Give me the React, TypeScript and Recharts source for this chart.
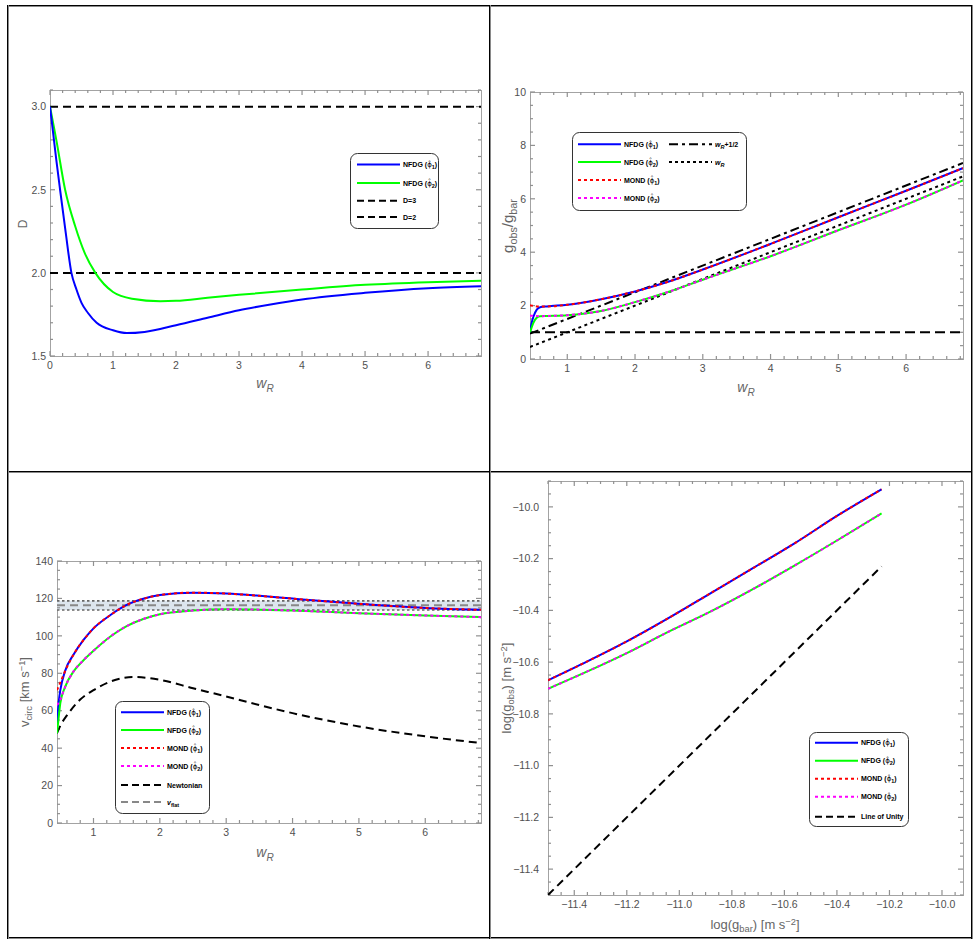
import React from "react";
import { LineChart, Line, XAxis, YAxis, ReferenceLine, ReferenceArea } from "recharts";

const FONT = "'Liberation Sans', Arial, Helvetica, sans-serif";
const FRAME = "#a3a3a3";
const TICK_MARK = "#909090";
const TICK_TEXT = "#505050";
const LABEL = "#666";
const GAP = 8;

const BLUE = "#0000ff";
const GREEN = "#00ff00";
const RED = "#ff0000";
const MAGENTA = "#ff00ff";
const BLACK = "#000000";

// ---------- panel 1: D vs w_R ----------
const dWR1 = [0, 0.05, 0.1, 0.16, 0.25, 0.34, 0.42, 0.5, 0.6, 0.74, 1.0, 1.22, 1.5, 2, 2.5, 3, 3.5, 4, 5, 6, 6.84];
const dNFDG1 = [3.0, 2.84, 2.68, 2.5, 2.24, 2.0, 1.9, 1.82, 1.76, 1.7, 1.655, 1.638, 1.645, 1.685, 1.73, 1.775, 1.81, 1.84, 1.88, 1.908, 1.92];
const dWR2 = [0, 0.05, 0.1, 0.24, 0.4, 0.55, 0.72, 1.0, 1.3, 1.75, 2, 2.5, 3, 4, 5, 6, 6.84];
const dNFDG2 = [3.0, 2.9, 2.8, 2.5, 2.28, 2.12, 2.0, 1.885, 1.845, 1.83, 1.832, 1.85, 1.868, 1.9, 1.928, 1.944, 1.952];
const dRefLines = [3, 2];
const dXMajor = [0, 1, 2, 3, 4, 5, 6];
const dYMajor = [1.5, 2.0, 2.5, 3.0];

// ---------- panel 2: g_obs/g_bar vs w_R ----------
const gWR = [0.45, 0.47, 0.5, 0.55, 0.6, 0.7, 1, 1.5, 2, 2.5, 3, 4, 5, 6, 6.84];
const gNFDG1 = [1.0, 1.3, 1.58, 1.85, 1.94, 1.97, 2.03, 2.24, 2.53, 2.9, 3.35, 4.31, 5.31, 6.3, 7.15];
const gMOND1 = [2.02, 2.0, 1.99, 1.97, 1.97, 1.97, 2.03, 2.24, 2.53, 2.9, 3.35, 4.31, 5.31, 6.3, 7.15];
const gNFDG2 = [1.0, 1.15, 1.35, 1.55, 1.6, 1.61, 1.64, 1.8, 2.13, 2.52, 2.97, 3.85, 4.82, 5.78, 6.69];
const gMOND2 = [1.62, 1.62, 1.62, 1.61, 1.6, 1.61, 1.64, 1.8, 2.13, 2.52, 2.97, 3.85, 4.82, 5.78, 6.69];
const gLineWR = [0.45, 6.84];
const gPlusHalf = [0.95, 7.34];
const gEqualWR = [0.45, 6.84];
const gUnity = [1, 1];
const gXMajor = [1, 2, 3, 4, 5, 6];
const gYMajor = [0, 2, 4, 6, 8, 10];

// ---------- panel 3: v_circ vs w_R ----------
const vWR = [0.45, 0.48, 0.5, 0.57, 0.7, 0.85, 1, 1.25, 1.5, 1.75, 2, 2.5, 3, 3.5, 4, 5, 6, 6.84];
const vNFDG1 = [53, 66, 71, 81, 90, 97.8, 104, 111, 116.5, 119.8, 121.8, 123.1, 122.6, 121.4, 119.9, 117.1, 114.9, 113.9];
const vMOND1 = [71, 73.5, 75, 81, 90, 97.8, 104, 111, 116.5, 119.8, 121.8, 123.1, 122.6, 121.4, 119.9, 117.1, 114.9, 113.9];
const vNFDG2 = [48, 58, 64, 72.5, 81, 87, 92, 99.5, 105.2, 109, 111.5, 113.5, 114.2, 114, 113.5, 112.1, 110.9, 110];
const vMOND2 = [63, 64.5, 66, 72.5, 81, 87, 92, 99.5, 105.2, 109, 111.5, 113.5, 114.2, 114, 113.5, 112.1, 110.9, 110];
const vNewtWR = [0.45, 0.5, 0.6, 0.8, 1, 1.25, 1.6, 2, 2.5, 3, 3.5, 4, 5, 6, 6.84];
const vNewton = [48, 52, 57.5, 66, 71, 75.5, 78, 76.5, 72, 67.6, 63, 58.7, 51.6, 46.3, 42.7];
const vFlat = 116.4;
const vFlatLow = 113.8;
const vFlatHigh = 118.7;
const vXMajor = [1, 2, 3, 4, 5, 6];
const vYMajor = [0, 20, 40, 60, 80, 100, 120, 140];

// ---------- panel 4: log g_obs vs log g_bar ----------
const rBar = [-11.5, -11.35, -11.2, -11.05, -10.88, -10.72, -10.56, -10.4, -10.23];
const rNFDG1 = [-10.67, -10.597, -10.52, -10.435, -10.333, -10.237, -10.14, -10.035, -9.932];
const rNFDG2 = [-10.703, -10.636, -10.565, -10.487, -10.404, -10.318, -10.226, -10.13, -10.025];
const rUnityBar = [-11.5, -10.23];
const rUnityObs = [-11.5, -10.23];
const rMajor = [-11.4, -11.2, -11.0, -10.8, -10.6, -10.4, -10.2, -10.0];

function zip(xs: number[], ys: number[]) {
  return xs.map((x, i) => ({ x, y: ys[i] }));
}

function ticksIn(domain: number[], step: number) {
  const out: number[] = [];
  const start = Math.ceil(domain[0] / step - 1e-9);
  for (let i = start; i * step <= domain[1] + 1e-9; i++) out.push(Math.round(i * step * 1e6) / 1e6);
  return out;
}

const isIn = (list: number[], v: number) => list.some((m) => Math.abs(m - v) < 1e-6);
const minus = (v: number) => v.toFixed(1).replace("-", "\u2212");

function labelTick(side: "bottom" | "left", fmt: (v: number) => string, labelGap = 4) {
  return (p: any) => {
    const txt = { fontFamily: FONT, fontSize: 10.5, fill: TICK_TEXT };
    if (side === "bottom") {
      return <text x={p.x} y={p.y - GAP + 5} dy="0.75em" textAnchor="middle" {...txt}>{fmt(p.payload.value)}</text>;
    }
    return <text x={p.x + GAP - labelGap} y={p.y} dy="0.36em" textAnchor="end" {...txt}>{fmt(p.payload.value)}</text>;
  };
}

function labelAxes(xDomain: number[], xMajor: number[], fmtX: (v: number) => string,
  yDomain: number[], yMajor: number[], fmtY: (v: number) => string, labelGap = 4) {
  const common = { type: "number" as const, allowDataOverflow: true, interval: 0 as const, tickLine: false, tickSize: 0, tickMargin: GAP, axisLine: false };
  return [
    <XAxis key="xb" dataKey="x" domain={xDomain} ticks={xMajor} height={30} tick={labelTick("bottom", fmtX)} {...common} />,
    <YAxis key="yl" domain={yDomain} ticks={yMajor} width={45} tick={labelTick("left", fmtY, labelGap)} {...common} />,
  ];
}

// inward frame ticks on all four sides, placed through the chart's scales
function frameTicks(xDomain: number[], xStep: number, xMajor: number[],
  yDomain: number[], yStep: number, yMajor: number[], plotW: number, plotH: number) {
  const [x0, x1] = xDomain;
  const [y0, y1] = yDomain;
  const ux = (x1 - x0) / plotW;
  const uy = (y1 - y0) / plotH;
  const marks: React.ReactNode[] = [];
  const st = { stroke: TICK_MARK, strokeWidth: 1.2 };
  ticksIn(xDomain, xStep).forEach((v) => {
    const len = (isIn(xMajor, v) ? 5 : 3) * uy;
    marks.push(<ReferenceLine key={`xb${v}`} segment={[{ x: v, y: y0 }, { x: v, y: y0 + len }]} {...st} />);
    marks.push(<ReferenceLine key={`xt${v}`} segment={[{ x: v, y: y1 }, { x: v, y: y1 - len }]} {...st} />);
  });
  ticksIn(yDomain, yStep).forEach((v) => {
    const len = (isIn(yMajor, v) ? 5 : 3) * ux;
    marks.push(<ReferenceLine key={`yl${v}`} segment={[{ x: x0, y: v }, { x: x0 + len, y: v }]} {...st} />);
    marks.push(<ReferenceLine key={`yr${v}`} segment={[{ x: x1, y: v }, { x: x1 - len, y: v }]} {...st} />);
  });
  return marks;
}

function PlotFrame({ l, t, r, b }: { l: number; t: number; r: number; b: number }) {
  return (
    <div style={{ position: "absolute", left: l, top: t, width: r - l - 1, height: b - t - 1,
      border: `1px solid ${FRAME}`, pointerEvents: "none" }} />
  );
}

function Phi({ name, i }: { name: string; i: number }) {
  return (
    <>
      {name} (<tspan fontFamily="'DejaVu Sans'" fontWeight="normal">{"\u03D5\u0302"}</tspan>
      <tspan dy={2} fontSize={5.5}>{i}</tspan>
      <tspan dy={-2}>)</tspan>
    </>
  );
}

type Row = { x: number; y: number; stroke: string; dash?: string; label: React.ReactNode };

function LegendBox({ left, top, width, height, rows }: { left: number; top: number; width: number; height: number; rows: Row[] }) {
  return (
    <svg style={{ position: "absolute", left, top }} width={width} height={height}>
      <rect x={0.5} y={0.5} width={width - 1} height={height - 1} rx={7} fill="#fff" stroke="#333" />
      {rows.map((r, k) => (
        <g key={k}>
          <line x1={r.x} x2={r.x + 43} y1={r.y} y2={r.y} stroke={r.stroke} strokeWidth={2} strokeDasharray={r.dash} />
          <text x={r.x + 46} y={r.y + 2.5} fontFamily={FONT} fontSize={7} fontWeight="bold" fill="#000">{r.label}</text>
        </g>
      ))}
    </svg>
  );
}

function AxisLabel({ x, y, rotate, size = 13, children }: { x: number; y: number; rotate?: boolean; size?: number; children: React.ReactNode }) {
  return (
    <div style={{ position: "absolute", left: x, top: y, transform: `translate(-50%, -50%)${rotate ? " rotate(-90deg)" : ""}`,
      fontFamily: FONT, fontSize: size, color: LABEL, whiteSpace: "nowrap", lineHeight: 1 }}>
      {children}
    </div>
  );
}

const Sub = ({ children, italic }: { children: React.ReactNode; italic?: boolean }) => (
  <span style={{ fontSize: "0.72em", position: "relative", top: "0.35em", fontStyle: italic ? "italic" : "normal" }}>{children}</span>
);
const Sup = ({ children }: { children: React.ReactNode }) => (
  <span style={{ fontSize: "0.72em", position: "relative", top: "-0.45em" }}>{children}</span>
);

function HLine({ x, y, w }: { x: number; y: number; w: number }) {
  return (
    <>
      <div style={{ position: "absolute", left: x, top: y, width: w, height: 1, background: "#000" }} />
      <div style={{ position: "absolute", left: x, top: y + 1, width: w, height: 1, background: "#8a8a8a" }} />
    </>
  );
}
function VLine({ x, y, h }: { x: number; y: number; h: number }) {
  return (
    <>
      <div style={{ position: "absolute", left: x, top: y, width: 1, height: h, background: "#000" }} />
      <div style={{ position: "absolute", left: x + 1, top: y, width: 1, height: h, background: "#8a8a8a" }} />
    </>
  );
}

const MARGIN = { top: 10, right: 10, bottom: 0, left: 0 };
const solid = { dot: false, isAnimationActive: false, strokeWidth: 2, type: "monotone" as const, dataKey: "y" };
const DOTTED = "3 3";
const DASHED = "8 5";

export default function App() {
  const wR = (
    <>
      <i>w</i>
      <Sub italic>R</Sub>
    </>
  );
  const wRsvg = (
    <>
      <tspan fontStyle="italic">w</tspan>
      <tspan dy={2} fontSize={5.5} fontStyle="italic">R</tspan>
    </>
  );
  return (
    <div style={{ position: "absolute", left: 0, top: 0, width: 980, height: 946, background: "#fff", overflow: "hidden" }}>
      <HLine x={7} y={5} w={966} />
      <HLine x={7} y={471} w={966} />
      <HLine x={7} y={937} w={966} />
      <VLine x={7} y={5} h={934} />
      <VLine x={489} y={5} h={934} />
      <VLine x={971} y={5} h={934} />

      <PlotFrame l={50} t={90} r={481} b={356} />
      <PlotFrame l={530} t={92} r={963} b={359} />
      <PlotFrame l={57} t={561} r={481} b={823} />
      <PlotFrame l={548} t={481} r={963} b={895} />

      {/* panel 1 */}
      <div style={{ position: "absolute", left: 5, top: 80 }}>
        <LineChart width={486} height={306} margin={MARGIN}>
          {labelAxes([0, 6.84], dXMajor, (v) => String(v), [1.5, 3.1], dYMajor, (v) => v.toFixed(1))}
          {frameTicks([0, 6.84], 0.2, dXMajor, [1.5, 3.1], 0.1, dYMajor, 431, 266)}
          {dRefLines.map((d) => (
            <ReferenceLine key={d} y={d} stroke={BLACK} strokeWidth={2} strokeDasharray={DASHED} />
          ))}
          <Line data={zip(dWR2, dNFDG2)} stroke={GREEN} {...solid} />
          <Line data={zip(dWR1, dNFDG1)} stroke={BLUE} {...solid} />
        </LineChart>
      </div>
      <AxisLabel x={23} y={224} rotate size={12}>D</AxisLabel>
      <AxisLabel x={265} y={383} size={14}>{wR}</AxisLabel>
      <LegendBox left={350} top={153} width={89} height={76} rows={[
        { x: 7, y: 11.5, stroke: BLUE, label: <Phi name="NFDG" i={1} /> },
        { x: 7, y: 30, stroke: GREEN, label: <Phi name="NFDG" i={2} /> },
        { x: 7, y: 47.7, stroke: BLACK, dash: "7 4", label: "D=3" },
        { x: 7, y: 64, stroke: BLACK, dash: "7 4", label: "D=2" },
      ]} />

      {/* panel 2 */}
      <div style={{ position: "absolute", left: 485, top: 82 }}>
        <LineChart width={488} height={307} margin={MARGIN}>
          {labelAxes([0.45, 6.84], gXMajor, (v) => String(v), [0, 10], gYMajor, (v) => String(v))}
          {frameTicks([0.45, 6.84], 0.2, gXMajor, [0, 10], 0.5, gYMajor, 433, 267)}
          <Line data={zip(gLineWR, gUnity)} stroke={BLACK} {...solid} type="linear" strokeDasharray="10 5" />
          <Line data={zip(gLineWR, gPlusHalf)} stroke={BLACK} {...solid} type="linear" strokeDasharray="9 4 3 4" />
          <Line data={zip(gLineWR, gEqualWR)} stroke={BLACK} {...solid} type="linear" strokeDasharray="3 3.5" />
          <Line data={zip(gWR, gNFDG1)} stroke={BLUE} {...solid} />
          <Line data={zip(gWR, gNFDG2)} stroke={GREEN} {...solid} />
          <Line data={zip(gWR, gMOND1)} stroke={RED} {...solid} strokeDasharray={DOTTED} />
          <Line data={zip(gWR, gMOND2)} stroke={MAGENTA} {...solid} strokeDasharray={DOTTED} />
        </LineChart>
      </div>
      <AxisLabel x={507} y={226} rotate size={15}>
        g<Sub>obs</Sub>/g<Sub>bar</Sub>
      </AxisLabel>
      <AxisLabel x={746} y={387} size={14}>{wR}</AxisLabel>
      <LegendBox left={572} top={132} width={175} height={79} rows={[
        { x: 6, y: 12.3, stroke: BLUE, label: <Phi name="NFDG" i={1} /> },
        { x: 6, y: 30, stroke: GREEN, label: <Phi name="NFDG" i={2} /> },
        { x: 6, y: 48, stroke: RED, dash: DOTTED, label: <Phi name="MOND" i={1} /> },
        { x: 6, y: 66, stroke: MAGENTA, dash: DOTTED, label: <Phi name="MOND" i={2} /> },
        { x: 97, y: 12.3, stroke: BLACK, dash: "9 4 3 4", label: <>{wRsvg}<tspan dy={-2}>+1/2</tspan></> },
        { x: 97, y: 30, stroke: BLACK, dash: "3 3", label: wRsvg },
      ]} />

      {/* panel 3 */}
      <div style={{ position: "absolute", left: 12, top: 551 }}>
        <LineChart width={479} height={302} margin={MARGIN}>
          {labelAxes([0.45, 6.84], vXMajor, (v) => String(v), [0, 140], vYMajor, (v) => String(v))}
          <ReferenceArea y1={vFlatLow} y2={vFlatHigh} fill="#dce5ee" fillOpacity={1} stroke="none" />
          {frameTicks([0.45, 6.84], 0.2, vXMajor, [0, 140], 5, vYMajor, 424, 262)}
          <ReferenceLine y={vFlatHigh} stroke="#666" strokeWidth={1.6} strokeDasharray="2.5 2.5" />
          <ReferenceLine y={vFlatLow} stroke="#666" strokeWidth={1.6} strokeDasharray="2.5 2.5" />
          <ReferenceLine y={vFlat} stroke="#888" strokeWidth={2} strokeDasharray={DASHED} />
          <Line data={zip(vNewtWR, vNewton)} stroke={BLACK} {...solid} strokeDasharray={DASHED} />
          <Line data={zip(vWR, vNFDG1)} stroke={BLUE} {...solid} />
          <Line data={zip(vWR, vNFDG2)} stroke={GREEN} {...solid} />
          <Line data={zip(vWR, vMOND1)} stroke={RED} {...solid} strokeDasharray={DOTTED} />
          <Line data={zip(vWR, vMOND2)} stroke={MAGENTA} {...solid} strokeDasharray={DOTTED} />
        </LineChart>
      </div>
      <AxisLabel x={25} y={692} rotate size={13}>
        v<Sub>circ</Sub> [km s<Sup>{"\u22121"}</Sup>]
      </AxisLabel>
      <AxisLabel x={265} y={852} size={14}>{wR}</AxisLabel>
      <LegendBox left={115} top={701} width={95} height={113} rows={[
        { x: 6, y: 11.3, stroke: BLUE, label: <Phi name="NFDG" i={1} /> },
        { x: 6, y: 29, stroke: GREEN, label: <Phi name="NFDG" i={2} /> },
        { x: 6, y: 47, stroke: RED, dash: DOTTED, label: <Phi name="MOND" i={1} /> },
        { x: 6, y: 65, stroke: MAGENTA, dash: DOTTED, label: <Phi name="MOND" i={2} /> },
        { x: 6, y: 84, stroke: BLACK, dash: "7 4", label: "Newtonian" },
        { x: 6, y: 101, stroke: "#888", dash: "7 4", label: <><tspan fontStyle="italic">v</tspan><tspan dy={2} fontSize={5.5}>flat</tspan></> },
      ]} />

      {/* panel 4 */}
      <div style={{ position: "absolute", left: 503, top: 471 }}>
        <LineChart width={470} height={454} margin={MARGIN}>
          {labelAxes([-11.5, -9.92], rMajor, minus, [-11.5, -9.9], rMajor, minus, 9)}
          {frameTicks([-11.5, -9.92], 0.05, rMajor, [-11.5, -9.9], 0.05, rMajor, 415, 414)}
          <Line data={zip(rUnityBar, rUnityObs)} stroke={BLACK} {...solid} type="linear" strokeDasharray={DASHED} />
          <Line data={zip(rBar, rNFDG1)} stroke={BLUE} {...solid} />
          <Line data={zip(rBar, rNFDG2)} stroke={GREEN} {...solid} />
          <Line data={zip(rBar, rNFDG1)} stroke={RED} {...solid} strokeDasharray={DOTTED} />
          <Line data={zip(rBar, rNFDG2)} stroke={MAGENTA} {...solid} strokeDasharray={DOTTED} />
        </LineChart>
      </div>
      <AxisLabel x={507} y={688} rotate size={13}>
        log(g<Sub>obs</Sub>) [m s<Sup>{"\u22122"}</Sup>]
      </AxisLabel>
      <AxisLabel x={755} y={925} size={13}>
        log(g<Sub>bar</Sub>) [m s<Sup>{"\u22122"}</Sup>]
      </AxisLabel>
      <LegendBox left={809} top={732} width={100} height={95} rows={[
        { x: 6, y: 10.7, stroke: BLUE, label: <Phi name="NFDG" i={1} /> },
        { x: 6, y: 28.7, stroke: GREEN, label: <Phi name="NFDG" i={2} /> },
        { x: 6, y: 46.7, stroke: RED, dash: DOTTED, label: <Phi name="MOND" i={1} /> },
        { x: 6, y: 64.7, stroke: MAGENTA, dash: DOTTED, label: <Phi name="MOND" i={2} /> },
        { x: 6, y: 84.7, stroke: BLACK, dash: "7 4", label: "Line of Unity" },
      ]} />
    </div>
  );
}
